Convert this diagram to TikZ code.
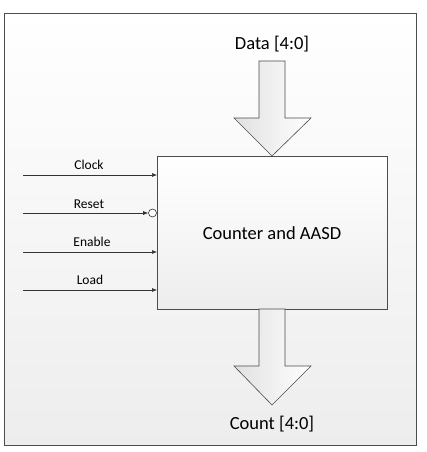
\documentclass[tikz,border=0pt]{standalone}
\usepackage{fontspec}
\setmainfont{Carlito}
\usetikzlibrary{arrows.meta}
\begin{document}
\begin{tikzpicture}[x=1pt,y=-1pt,
  frame/.style={draw=black!70, line width=0.8pt},
  blockbox/.style={draw=black!70, line width=0.8pt, top color=white, bottom color=black!7},
  fatarrow/.style={draw=black!70, line width=0.6pt, left color=black!12, right color=white},
  sig/.style={draw=black!80, line width=0.6pt, -{Latex[length=5pt,width=4pt]}},
  siglabel/.style={font=\fontsize{13.5}{16}\selectfont, anchor=base},
  biglabel/.style={font=\fontsize{18.5}{22}\selectfont, anchor=base}
]
\useasboundingbox (0,0) rectangle (427,452);
\fill[white] (0,0) rectangle (427,452);
\shade[top color=white, bottom color=black!7] (4,13) rectangle (416,445);
\draw[frame] (4,13) rectangle (416,445);

% main block
\node[blockbox, minimum width=230pt, minimum height=153pt, inner sep=0pt, anchor=north west] (blk) at (157,156) {};
\node[font=\fontsize{18.5}{22}\selectfont] (blklabel) at (272,233) {Counter and AASD};

% Data arrow
\path[fatarrow] (259,61) -- (285,61) -- (285,118) -- (311,118) -- (272,156) -- (234,118) -- (259,118) -- cycle;
\node[biglabel] (data) at (272,50) {Data [4:0]};

% Count arrow
\path[fatarrow] (259,309) -- (285,309) -- (285,366) -- (311,366) -- (272,405) -- (234,366) -- (259,366) -- cycle;
\node[biglabel] (count) at (272,429) {Count [4:0]};

% inputs
\coordinate (c0) at (23,175);
\coordinate (c1) at (157,175);
\coordinate (r0) at (23,213);
\node[draw=black!80, line width=0.6pt, fill=white, circle, minimum size=8pt, inner sep=0pt] (rc) at (152.5,213) {};
\coordinate (e0) at (23,252);
\coordinate (e1) at (157,252);
\coordinate (l0) at (23,290);
\coordinate (l1) at (157,290);

\draw[sig] (c0) -- (c1);
\draw[sig] (r0) -- (rc.west);
\draw[sig] (e0) -- (e1);
\draw[sig] (l0) -- (l1);

\node[siglabel] (clk) at (89,169.5) {Clock};
\node[siglabel] (rst) at (89,208.5) {Reset};
\node[siglabel] (en) at (92,246.5) {Enable};
\node[siglabel] (ld) at (90,284.5) {Load};
\end{tikzpicture}
\end{document}
